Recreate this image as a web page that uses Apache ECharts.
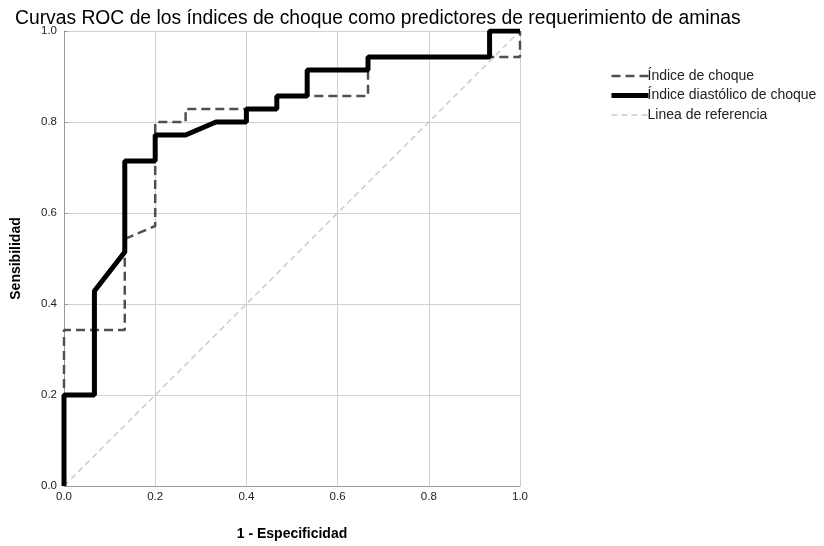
<!DOCTYPE html>
<html><head><meta charset="utf-8">
<script src="https://cdn.jsdelivr.net/npm/echarts@6/dist/echarts.min.js"></script>
<style>html,body{margin:0;padding:0;background:#fff}#c{width:824px;height:546px}</style>
</head><body><div id="c"></div>
<script>
const titleText = "Curvas ROC de los índices de choque como predictores de requerimiento de aminas";
const seriesNames = ["Índice de choque", "Índice diastólico de choque", "Linea de referencia"];
const choqueX = [0, 0, 0.1333, 0.1333, 0.2, 0.2, 0.2667, 0.2667, 0.4, 0.4667, 0.4667, 0.6667, 0.6667, 1, 1];
const choqueY = [0, 0.3429, 0.3429, 0.5429, 0.5714, 0.8, 0.8, 0.8286, 0.8286, 0.8286, 0.8571, 0.8571, 0.9429, 0.9429, 1];
const diasX = [0, 0, 0.0667, 0.0667, 0.1333, 0.1333, 0.2, 0.2, 0.2667, 0.3333, 0.4, 0.4, 0.4667, 0.4667, 0.5333, 0.5333, 0.6667, 0.6667, 0.9333, 0.9333, 1];
const diasY = [0, 0.2, 0.2, 0.4286, 0.5143, 0.7143, 0.7143, 0.7714, 0.7714, 0.8, 0.8, 0.8286, 0.8286, 0.8571, 0.8571, 0.9143, 0.9143, 0.9429, 0.9429, 1, 1];
const refX = [0, 1];
const refY = [0, 1];
const zip = (a, b) => a.map((v, i) => [v, b[i]]);
const font = "Liberation Sans, Arial, sans-serif";
const chart = echarts.init(document.getElementById('c'), null, {renderer: 'canvas'});
chart.setOption({
  animation: false,
  backgroundColor: '#fff',
  title: {text: titleText, left: 10, top: 4, textStyle: {fontFamily: font, fontSize: 19.3, fontWeight: 'normal', color: '#000'}},
  grid: {left: 64, right: 304, top: 31, bottom: 58, containLabel: false},
  legend: {
    orient: 'vertical', left: 604, top: 64, itemWidth: 37, itemHeight: 12, itemGap: 5.5,
    itemStyle: {opacity: 0},
    textStyle: {fontFamily: font, fontSize: 14, color: '#222', padding: [0, 0, 0, -6]},
    data: [
      {name: seriesNames[0], lineStyle: {color: '#505050', width: 2.5, type: [9, 5]}},
      {name: seriesNames[1], lineStyle: {color: '#000', width: 5, type: 'solid'}},
      {name: seriesNames[2], lineStyle: {color: '#cccccc', width: 1.5, type: [6, 4]}}
    ]
  },
  xAxis: {
    type: 'value', min: 0, max: 1, interval: 0.2,
    name: '1 - Especificidad', nameLocation: 'middle', nameGap: 41,
    nameTextStyle: {fontFamily: font, fontSize: 14, fontWeight: 'bold', color: '#000'},
    axisLine: {lineStyle: {color: '#999'}}, axisTick: {show: false},
    axisLabel: {formatter: v => v.toFixed(1), fontFamily: font, fontSize: 11.5, color: '#222', margin: 5},
    splitLine: {show: true, lineStyle: {color: '#d0d0d0', width: 1}}
  },
  yAxis: {
    type: 'value', min: 0, max: 1, interval: 0.2,
    name: 'Sensibilidad', nameLocation: 'middle', nameGap: 41, nameRotate: 90,
    nameTextStyle: {fontFamily: font, fontSize: 14, fontWeight: 'bold', color: '#000'},
    axisLine: {show: true, lineStyle: {color: '#999'}}, axisTick: {show: true, inside: true, length: 4, lineStyle: {color: '#999'}},
    axisLabel: {formatter: v => v.toFixed(1), fontFamily: font, fontSize: 11.5, color: '#222', margin: 7},
    splitLine: {show: true, lineStyle: {color: '#d0d0d0', width: 1}}
  },
  series: [
    {name: seriesNames[2], type: 'line', symbol: 'none', data: zip(refX, refY), z: 1,
     lineStyle: {color: '#cccccc', width: 1.5, type: [6, 4]}, itemStyle: {color: '#cccccc'}},
    {name: seriesNames[0], type: 'line', symbol: 'none', data: zip(choqueX, choqueY), z: 2,
     lineStyle: {color: '#505050', width: 2.5, type: [9, 5]}, itemStyle: {color: '#505050'}},
    {name: seriesNames[1], type: 'line', symbol: 'none', data: zip(diasX, diasY), z: 3,
     lineStyle: {color: '#000', width: 5}, itemStyle: {color: '#000'}}
  ]
});
</script></body></html>
